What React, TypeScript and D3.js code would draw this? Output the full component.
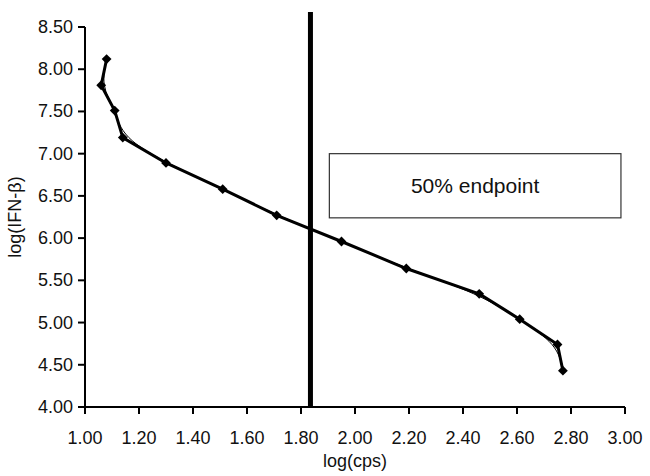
import React from "react";
import * as d3 from "d3";

// log(cps) and log(IFN-β) readings, in plotting order
const logCps = [1.08, 1.06, 1.11, 1.14, 1.3, 1.51, 1.71, 1.95, 2.19, 2.46, 2.61, 2.75, 2.77];
const logIfn = [8.12, 7.81, 7.51, 7.19, 6.89, 6.58, 6.27, 5.96, 5.64, 5.34, 5.04, 4.74, 4.43];

const xTicks = [1.0, 1.2, 1.4, 1.6, 1.8, 2.0, 2.2, 2.4, 2.6, 2.8, 3.0];
const yTicks = [4.0, 4.5, 5.0, 5.5, 6.0, 6.5, 7.0, 7.5, 8.0, 8.5];

const endpointX = 1.835;
const endpointLabel = "50% endpoint";

export default function App() {
  const width = 650,
    height = 476;
  const font = "'Liberation Sans', Arial, sans-serif";

  const x = d3.scaleLinear().domain([1, 3]).range([85, 625]);
  const y = d3.scaleLinear().domain([4, 8.5]).range([407, 27]);

  const points = logCps.map((c, i) => [c, logIfn[i]] as [number, number]);

  const thick = d3
    .line<[number, number]>()
    .x(d => x(d[0]))
    .y(d => y(d[1]));

  const smooth = d3
    .line<[number, number]>()
    .x(d => x(d[0]))
    .y(d => y(d[1]))
    .curve(d3.curveBasis);

  const diamond = d3.symbol().type(d3.symbolSquare).size(48)();

  const boxX0 = x(1.905),
    boxX1 = x(2.985),
    boxY0 = y(7.0),
    boxY1 = y(6.24);

  return (
    <svg
      width={width}
      height={height}
      style={{ position: "absolute", left: 0, top: 0, background: "#fff" }}
    >
      {/* curves */}
      <path d={thick(points) || ""} fill="none" stroke="#000" strokeWidth={3} strokeLinejoin="round" />
      <path d={smooth(points) || ""} fill="none" stroke="#000" strokeWidth={1} />
      {points.map((p, i) => (
        <path
          key={i}
          d={diamond || ""}
          transform={`translate(${x(p[0])},${y(p[1])}) rotate(45)`}
          fill="#000"
        />
      ))}

      {/* endpoint marker */}
      <line x1={x(endpointX)} x2={x(endpointX)} y1={12} y2={y(4)} stroke="#000" strokeWidth={5} />

      <rect
        x={boxX0}
        y={boxY0}
        width={boxX1 - boxX0}
        height={boxY1 - boxY0}
        fill="#fff"
        stroke="#333"
        strokeWidth={1.2}
      />
      <text
        x={(boxX0 + boxX1) / 2}
        y={(boxY0 + boxY1) / 2}
        textAnchor="middle"
        dominantBaseline="central"
        fontFamily={font}
        fontSize={21}
        fill="#111"
      >
        {endpointLabel}
      </text>

      {/* axes */}
      <line x1={x(1)} x2={x(3)} y1={y(4)} y2={y(4)} stroke="#000" strokeWidth={2} />
      <line x1={x(1)} x2={x(1)} y1={y(4)} y2={y(8.5)} stroke="#000" strokeWidth={2} />
      {xTicks.map(t => (
        <g key={t}>
          <line x1={x(t)} x2={x(t)} y1={y(4)} y2={y(4) + 7} stroke="#000" strokeWidth={2} />
          <text
            x={x(t)}
            y={y(4) + 37}
            textAnchor="middle"
            fontFamily={font}
            fontSize={18}
            fill="#111"
          >
            {t.toFixed(2)}
          </text>
        </g>
      ))}
      {yTicks.map(t => (
        <g key={t}>
          <line x1={x(1) - 7} x2={x(1)} y1={y(t)} y2={y(t)} stroke="#000" strokeWidth={2} />
          <text
            x={x(1) - 12}
            y={y(t)}
            textAnchor="end"
            dominantBaseline="central"
            fontFamily={font}
            fontSize={18}
            fill="#111"
          >
            {t.toFixed(2)}
          </text>
        </g>
      ))}

      <text x={(x(1) + x(3)) / 2} y={467} textAnchor="middle" fontFamily={font} fontSize={18} fill="#111">
        log(cps)
      </text>
      <text
        transform={`translate(21,${(y(4) + y(8.5)) / 2}) rotate(-90)`}
        textAnchor="middle"
        fontFamily={font}
        fontSize={18}
        fill="#111"
      >
        log(IFN-β)
      </text>
    </svg>
  );
}
